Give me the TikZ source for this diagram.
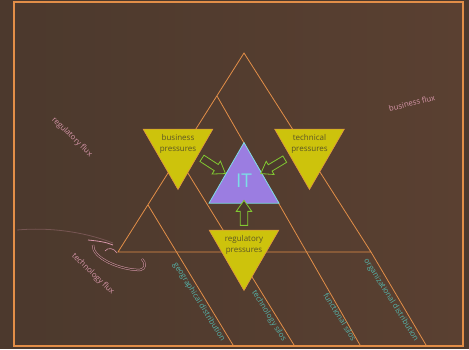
\documentclass[tikz,border=0pt]{standalone}
\usepackage{fontspec}
\setmainfont{Open Sans}
\usepackage{xcolor}
\usetikzlibrary{shapes.geometric, shapes.arrows}
\definecolor{bgdark}{RGB}{76,57,45}
\definecolor{bgright}{RGB}{90,64,49}
\definecolor{rim}{RGB}{226,142,72}
\definecolor{mustard}{RGB}{205,195,12}
\definecolor{olivetext}{RGB}{92,86,38}
\definecolor{itpurple}{RGB}{155,125,225}
\definecolor{itcyan}{RGB}{125,220,230}
\definecolor{leafgreen}{RGB}{130,200,50}
\definecolor{fluxpink}{RGB}{215,150,170}
\definecolor{axisteal}{RGB}{85,180,170}
\tikzstyle{guide} = [rim, line width=0.8pt]
\tikzstyle{pressure} = [regular polygon, regular polygon sides=3, shape border rotate=180,
    minimum size=80.8pt, inner sep=0pt, outer sep=0pt, fill=mustard, draw=rim, line width=0.5pt]
\tikzstyle{ptext} = [text=olivetext, font=\fontsize{8}{11}\selectfont, align=center]
\tikzstyle{push} = [single arrow, draw=leafgreen, fill=bgdark, line width=0.8pt,
    inner sep=3.3pt, single arrow head extend=4pt, single arrow tip angle=70]
\tikzstyle{flux} = [text=fluxpink, font=\fontsize{7.8}{9}\selectfont]
\tikzstyle{axislabel} = [text=axisteal, font=\fontsize{7.8}{9}\selectfont, rotate=-58]

\begin{document}
\begin{tikzpicture}[x=1pt, y=-1pt]
    \useasboundingbox (0,0) rectangle (469,349);
    \fill[bgdark] (0,0) rectangle (469,349);
    \shade[left color=bgdark, right color=bgright] (14,1.5) rectangle (463,346);
    \draw[rim, line width=2pt] (14,1.5) rectangle (463,346);

    % big triangle and its cuts
    \coordinate (top) at (244,53);
    \coordinate (bl) at (118,252);
    \coordinate (br) at (371,252);
    \coordinate (a0) at (148,205);
    \coordinate (a1) at (233,345);
    \coordinate (b0) at (178,157);
    \coordinate (b1) at (294,345);
    \coordinate (c0) at (217,96);
    \coordinate (c1) at (360,345);
    \coordinate (d1) at (426,345);
    \draw[guide] (top) -- (bl) -- (br) -- cycle;
    \draw[guide] (br) -- (d1);
    \draw[guide] (a0) -- (a1);
    \draw[guide] (b0) -- (b1);
    \draw[guide] (c0) -- (c1);

    % technology flux swirl
    \draw[fluxpink, opacity=.3, line width=0.8pt] (17,230) .. controls (50,227) and (85,232) .. (113,243);
    \draw[fluxpink, line width=0.8pt] (88,240) .. controls (98,241) and (106,242) .. (113,245);
    \draw[fluxpink, line width=0.5pt, double=bgdark, double distance=1.2pt]
        (93,245) .. controls (92,258) and (120,270) .. (140,270) .. controls (146,269) and (146,263) .. (142,259);
    \draw[fluxpink, line width=0.6pt] (105,251) .. controls (108,247) and (114,248) .. (117,253);

    % pressures and IT
    \node[pressure] (bp) at (178,149.2) {};
    \node[pressure] (tp) at (309.5,149.2) {};
    \node[pressure] (rp) at (244,250.2) {};
    \node[ptext] (bpt) at ([yshift=5pt]bp.center) {business\\pressures};
    \node[ptext] (tpt) at ([yshift=5pt]tp.center) {technical\\pressures};
    \node[ptext] (rpt) at ([yshift=5pt]rp.center) {regulatory\\pressures};
    \node[regular polygon, regular polygon sides=3, minimum size=80.8pt, inner sep=0pt,
        fill=itpurple, draw=itcyan, line width=0.8pt] (it) at (244,183) {};
    \node[text=itcyan, font=\fontsize{19}{20}\selectfont] (itt) at (244,181) {IT};

    \node[push, minimum height=28pt, rotate=-33] (bpa) at (211.5,164.5) {};
    \node[push, minimum height=28pt, rotate=-149] (tpa) at (275,165) {};
    \node[push, minimum height=25pt, rotate=90] (rpa) at (244,215.5) {};

    % flux labels
    \node[flux, rotate=-44] (rf) at (72,137) {regulatory flux};
    \node[flux, rotate=14] (bf) at (412,103) {business flux};
    \node[flux, rotate=-44] (tf) at (93,274) {technology flux};

    % axis labels
    \node[axislabel] (geo) at (199,302) {geographical distribution};
    \node[axislabel] (tsil) at (269,316) {technology silos};
    \node[axislabel] (fsil) at (340,317) {functional silos};
    \node[axislabel] (org) at (391,300) {organizational distribution};
\end{tikzpicture}
\end{document}
